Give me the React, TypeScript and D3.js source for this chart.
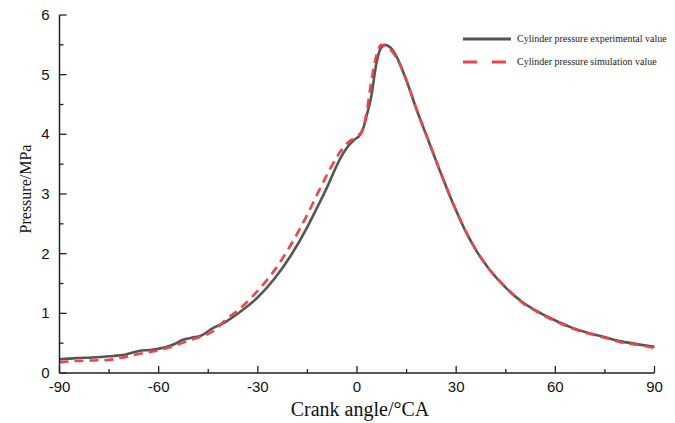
import React from "react";
import * as d3 from "d3";

const angles = [-90, -85, -80, -75, -70, -66, -62, -58, -55, -53, -50, -47, -44, -40, -35, -30, -25, -20, -15, -12, -9, -7, -5, -3, -1, 1, 2, 3, 4.3, 5.9, 7, 8.5, 10, 12, 14.9, 18, 21.9, 25, 28, 30, 33, 36, 40, 45, 50, 55, 60, 65, 70, 75, 80, 85, 90];
const experimental = [0.23, 0.25, 0.26, 0.28, 0.31, 0.37, 0.39, 0.43, 0.49, 0.55, 0.59, 0.63, 0.74, 0.85, 1.04, 1.27, 1.58, 1.97, 2.45, 2.78, 3.12, 3.37, 3.6, 3.78, 3.9, 4.0, 4.12, 4.33, 4.63, 5.2, 5.42, 5.5, 5.46, 5.3, 4.91, 4.42, 3.85, 3.4, 2.98, 2.72, 2.36, 2.06, 1.74, 1.43, 1.19, 1.02, 0.88, 0.76, 0.67, 0.6, 0.53, 0.48, 0.44];

const simAngles = [-90, -85, -80, -75, -70, -65, -60, -55, -50, -46, -43, -40, -35, -30, -25, -20, -15, -12, -9, -6, -3, 0, 1.5, 3, 4.5, 6, 7.4, 9.5, 12, 15, 18, 22, 25, 28, 30, 33, 36, 40, 45, 50, 55, 60, 65, 70, 75, 80, 85, 90];
const simulation = [0.18, 0.2, 0.21, 0.22, 0.27, 0.33, 0.38, 0.46, 0.56, 0.63, 0.72, 0.88, 1.1, 1.38, 1.72, 2.15, 2.66, 3.0, 3.33, 3.63, 3.85, 3.97, 4.05, 4.4, 4.95, 5.35, 5.5, 5.45, 5.28, 4.9, 4.42, 3.84, 3.4, 2.98, 2.72, 2.36, 2.06, 1.74, 1.43, 1.18, 1.01, 0.87, 0.75, 0.66, 0.59, 0.51, 0.47, 0.42];

const xTicks = [-90, -60, -30, 0, 30, 60, 90];
const xMinorTicks = [-75, -45, -15, 15, 45, 75];
const yTicks = [0, 1, 2, 3, 4, 5, 6];
const yMinorTicks = [0.5, 1.5, 2.5, 3.5, 4.5, 5.5];

const seriesNames = ["Cylinder pressure experimental value", "Cylinder pressure simulation value"];
const xTitle = "Crank angle/°CA";
const yTitle = "Pressure/MPa";

export default function App() {
  const W = 675, H = 423;
  const x = d3.scaleLinear().domain([-90, 90]).range([59.5, 654.5]);
  const y = d3.scaleLinear().domain([0, 6]).range([373, 15]);
  const line = d3.line<[number, number]>().x(d => x(d[0])).y(d => y(d[1])).curve(d3.curveMonotoneX);
  const expPath = line(angles.map((a, i) => [a, experimental[i]]) as [number, number][]) || "";
  const simPath = line(simAngles.map((a, i) => [a, simulation[i]]) as [number, number][]) || "";
  const axisColor = "#222";
  const gray = "#555555";
  const red = "#f0444b";
  return (
    <svg width={W} height={H} style={{ position: "absolute", left: 0, top: 0, background: "#fff" }}>
      <rect width={W} height={H} fill="#fff" />
      <path d={expPath} fill="none" stroke={gray} strokeWidth={2.6} />
      <path d={simPath} fill="none" stroke={red} strokeWidth={2.6} strokeDasharray="9,6" />
      <line x1={x(-90)} x2={x(-90)} y1={y(6)} y2={y(0)} stroke={axisColor} strokeWidth={1.5} />
      <line x1={x(-90)} x2={x(90)} y1={y(0)} y2={y(0)} stroke={axisColor} strokeWidth={1.5} />
      {xTicks.map(t => (
        <g key={"xt" + t}>
          <line x1={x(t)} x2={x(t)} y1={y(0)} y2={y(0) - 7} stroke={axisColor} strokeWidth={1.3} />
          <text x={x(t)} y={y(0) + 19} textAnchor="middle" fontFamily="Liberation Sans, Arial, sans-serif" fontSize={15} fill="#111">{t}</text>
        </g>
      ))}
      {xMinorTicks.map(t => (
        <line key={"xm" + t} x1={x(t)} x2={x(t)} y1={y(0)} y2={y(0) - 4} stroke={axisColor} strokeWidth={1.3} />
      ))}
      {yTicks.map(t => (
        <g key={"yt" + t}>
          <line x1={x(-90)} x2={x(-90) + 7} y1={y(t)} y2={y(t)} stroke={axisColor} strokeWidth={1.3} />
          <text x={x(-90) - 10} y={y(t) + 5} textAnchor="end" fontFamily="Liberation Sans, Arial, sans-serif" fontSize={15} fill="#111">{t}</text>
        </g>
      ))}
      {yMinorTicks.map(t => (
        <line key={"ym" + t} x1={x(-90)} x2={x(-90) + 4} y1={y(t)} y2={y(t)} stroke={axisColor} strokeWidth={1.3} />
      ))}
      <text x={360} y={416} textAnchor="middle" fontFamily="Liberation Serif, Times New Roman, serif" fontSize={20} fill="#111">{xTitle}</text>
      <text transform={`translate(31,189) rotate(-90)`} textAnchor="middle" fontFamily="Liberation Serif, Times New Roman, serif" fontSize={16} fill="#111">{yTitle}</text>
      <line x1={463} x2={511} y1={39} y2={39} stroke={gray} strokeWidth={3} />
      <text x={517} y={42} fontFamily="Liberation Serif, Times New Roman, serif" fontSize={10} fill="#222">{seriesNames[0]}</text>
      <line x1={463} x2={507} y1={62} y2={62} stroke={red} strokeWidth={3} strokeDasharray="14,15" />
      <text x={517} y={65} fontFamily="Liberation Serif, Times New Roman, serif" fontSize={10} fill="#222">{seriesNames[1]}</text>
    </svg>
  );
}
